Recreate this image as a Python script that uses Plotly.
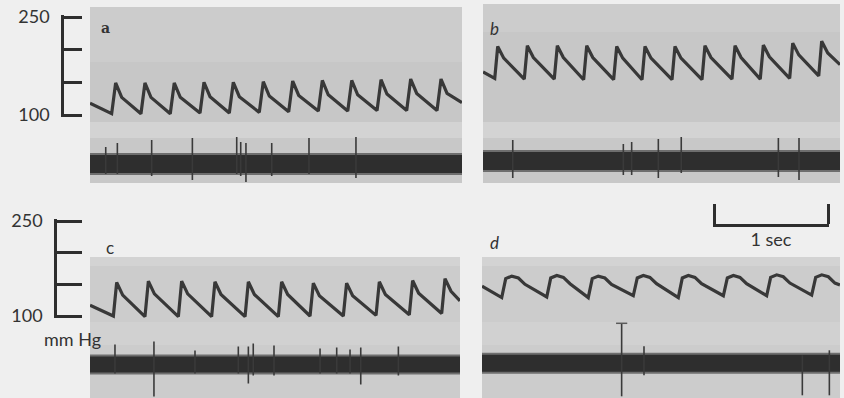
import plotly.graph_objects as go

# ---------------- data (time in s, pressure in mm Hg, nerve in rel. units) ----------------
A_T = [0.000,
       0.190, 0.225, 0.278, 0.447, 0.482, 0.535, 0.704, 0.739, 0.792,
       0.965, 1.000, 1.053, 1.222, 1.257, 1.310, 1.485, 1.520, 1.573,
       1.743, 1.778, 1.831, 2.003, 2.038, 2.090, 2.261, 2.296, 2.348,
       2.518, 2.553, 2.605, 2.778, 2.813, 2.866, 3.044, 3.079, 3.132,
       3.263]
A_P = [118,
       102, 149, 127, 102, 149, 127, 102, 149, 127,
       103, 150, 128, 103, 150, 128, 104, 151, 129,
       105, 152, 130, 106, 153, 131, 106, 153, 131,
       107, 154, 132, 107, 155, 133, 107, 155, 133,
       119]

B_T = [0.000,
       0.103, 0.129, 0.182, 0.362, 0.389, 0.442, 0.625, 0.652, 0.705,
       0.883, 0.910, 0.963, 1.146, 1.173, 1.226, 1.395, 1.421, 1.474,
       1.658, 1.684, 1.737, 1.921, 1.947, 2.000, 2.184, 2.211, 2.264,
       2.432, 2.459, 2.512, 2.690, 2.717, 2.770, 2.945, 2.971, 3.024,
       3.132]
B_P = [166,
       156, 205, 187, 155, 206, 188, 155, 206, 188,
       154, 206, 188, 154, 205, 187, 154, 205, 187,
       154, 205, 187, 154, 206, 188, 155, 206, 188,
       155, 207, 189, 156, 210, 192, 160, 213, 195,
       177]

C_T = [0.000,
       0.205, 0.234, 0.287, 0.482, 0.512, 0.565, 0.775, 0.804, 0.857,
       1.067, 1.096, 1.149, 1.360, 1.389, 1.442, 1.652, 1.681, 1.734,
       1.930, 1.959, 2.012, 2.222, 2.251, 2.304, 2.509, 2.538, 2.591,
       2.801, 2.830, 2.883, 3.085, 3.114, 3.167,
       3.246]
C_P = [117,
       100, 153, 133, 99, 155, 135, 99, 155, 135,
       99, 154, 134, 99, 154, 134, 99, 154, 134,
       100, 152, 132, 100, 152, 132, 101, 154, 134,
       102, 156, 136, 104, 159, 139,
       124]

D_T = [0.000,
       0.173, 0.208, 0.261, 0.319, 0.377,
       0.568, 0.603, 0.656, 0.714, 0.772,
       0.932, 0.967, 1.020, 1.078, 1.136,
       1.327, 1.362, 1.415, 1.473, 1.531,
       1.722, 1.757, 1.810, 1.868, 1.926,
       2.117, 2.152, 2.205, 2.263, 2.321,
       2.497, 2.532, 2.585, 2.643, 2.701,
       2.892, 2.927, 2.980, 3.038, 3.096,
       3.140]
D_P = [147,
       129, 159, 163, 160, 150,
       130, 160, 164, 161, 151,
       129, 159, 163, 160, 150,
       132, 160, 164, 161, 151,
       129, 160, 164, 161, 151,
       132, 160, 164, 161, 151,
       132, 161, 165, 162, 152,
       133, 161, 165, 162, 152,
       149]

# nerve activity: background noise amplitude and single-unit spikes
A_NOISE = 9
B_NOISE = 9
C_NOISE = 8
D_NOISE = 8.5
A_SPK_T = [0.138, 0.240, 0.541, 0.898, 1.287, 1.322, 1.368, 1.594, 1.921, 2.333]
A_SPK_UP = [17, 21, 24, 26, 27, 22, 21, 21, 26, 27]
A_SPK_DN = [10, 10, 12, 16, 10, 12, 18, 12, 10, 14]
B_SPK_T = [0.261, 1.231, 1.304, 1.538, 1.739, 2.591, 2.772]
B_SPK_UP = [21, 17, 19, 22, 24, 23, 23]
B_SPK_DN = [17, 14, 14, 17, 12, 16, 19]
C_SPK_T = [0.219, 0.561, 0.921, 1.301, 1.389, 1.432, 1.614, 2.018, 2.164, 2.281, 2.375, 2.705]
C_SPK_UP = [20, 23, 14, 18, 18, 21, 19, 16, 17, 15, 17, 18]
C_SPK_DN = [9, 32, 9, 9, 19, 11, 11, 9, 9, 9, 20, 11]
D_SPK_T = [1.225, 1.421, 2.810, 3.047]
D_SPK_UP = [40, 17, 8, 13]
D_SPK_DN = [33, 12, 32, 32]
D_SPK_CAPPED = [True, False, False, False]

PANEL_LABELS = ["a", "b", "c", "d"]
PRESSURE_TICKS = [100, 150, 200, 250]
PRESSURE_TICKTEXT = ["100", "", "", "250"]
PRESSURE_UNIT = "mm Hg"
TIME_BAR = [0, 1]
TIME_LABEL = "1 sec"

# ---------------- layout geometry (pixels of the 844x398 page) ----------------
W, H = 844, 398
def fx(p): return p / W
def fy(p): return 1 - p / H

panels = [
    dict(box=(90, 462, 7, 183), T=A_T, P=A_P, p100=115, k=98/150, nc=164,
         noise=A_NOISE, st=A_SPK_T, su=A_SPK_UP, sd=A_SPK_DN, cap=None),
    dict(box=(483, 840, 4, 183), T=B_T, P=B_P, p100=115, k=98/150, nc=161,
         noise=B_NOISE, st=B_SPK_T, su=B_SPK_UP, sd=B_SPK_DN, cap=None),
    dict(box=(90, 460, 257, 398), T=C_T, P=C_P, p100=316, k=95/150, nc=364.5,
         noise=C_NOISE, st=C_SPK_T, su=C_SPK_UP, sd=C_SPK_DN, cap=None),
    dict(box=(482, 840, 257, 398), T=D_T, P=D_P, p100=316, k=95/150, nc=363.3,
         noise=D_NOISE, st=D_SPK_T, su=D_SPK_UP, sd=D_SPK_DN, cap=D_SPK_CAPPED),
]
PX_PER_S = 114

BG = "#efefef"
PANEL_BG = "#cccccc"
INK = "#2e2e2e"
TRACE = "#383838"
FONT = "Lato"

fig = go.Figure()
layout = dict(
    width=W, height=H, margin=dict(l=0, r=0, t=0, b=0, pad=0), autosize=False,
    paper_bgcolor=BG, plot_bgcolor="rgba(0,0,0,0)", showlegend=False,
    shapes=[], annotations=[],
)

for i, pn in enumerate(panels):
    L, R, Tp, Bt = pn["box"]
    n = i + 1
    xa = "x" if n == 1 else f"x{n}"
    ya = "y" if n == 1 else f"y{n}"
    yn = f"y{n+4}"
    dur = (R - L) / PX_PER_S
    p_hi = 100 + (pn["p100"] - Tp) / pn["k"]
    p_lo = 100 - (Bt - pn["p100"]) / pn["k"]
    n_hi = pn["nc"] - Tp
    n_lo = -(Bt - pn["nc"])

    layout[f"xaxis{n}"] = dict(domain=[fx(L), fx(R)], range=[0, dur], visible=False,
                               anchor=ya, fixedrange=True, automargin=False)
    layout[f"yaxis{n}"] = dict(domain=[fy(Bt), fy(Tp)], range=[p_lo, p_hi], visible=False,
                               anchor=xa, fixedrange=True, automargin=False)
    layout[f"yaxis{n+4}"] = dict(overlaying=ya, range=[n_lo, n_hi], visible=False,
                                 anchor=xa, fixedrange=True, automargin=False)

    xd, yd = f"{xa} domain", f"{ya} domain"
    h = Bt - Tp
    layout["shapes"].append(dict(type="rect", xref=xd, yref=yd, x0=0, x1=1, y0=0, y1=1,
                                 fillcolor=PANEL_BG, line=dict(width=0), layer="below"))
    if i < 2:
        strips = [((62 if i == 0 else 32), 122, "#c7c7c7"), (122, 138, "#d3d3d3"),
                  (138, 183, "#c8c8c8")]
    else:
        strips = [(257, 266, "#d3d3d3"), (322, 345, "#d1d1d1")]
    for s0, s1, c in strips:
        layout["shapes"].append(dict(type="rect", xref=xd, yref=yd, x0=0, x1=1,
                                     y0=(Bt - s1) / h, y1=(Bt - s0) / h,
                                     fillcolor=c, line=dict(width=0), layer="below"))

    fig.add_trace(go.Scatter(x=pn["T"], y=pn["P"], xaxis=xa, yaxis=ya, mode="lines",
                             line=dict(color=TRACE, width=3.2, shape="linear"),
                             hoverinfo="skip"))
    nz = pn["noise"]
    for amp, col in ((nz + 2, "#6e6e6e"), (nz, INK)):
        fig.add_trace(go.Scatter(x=[0, dur, dur, 0, 0], y=[amp, amp, -amp, -amp, amp],
                                 xaxis=xa, yaxis=yn, mode="lines", fill="toself",
                                 fillcolor=col, line=dict(width=0), hoverinfo="skip"))
    sx, sy = [], []
    for t, u, d in zip(pn["st"], pn["su"], pn["sd"]):
        sx += [t, t, None]
        sy += [u, -d, None]
    fig.add_trace(go.Scatter(x=sx, y=sy, xaxis=xa, yaxis=yn, mode="lines",
                             line=dict(color="#3a3a3a", width=1.6), hoverinfo="skip"))
    if pn["cap"]:
        cx = [t for t, c in zip(pn["st"], pn["cap"]) if c]
        cy = [u for u, c in zip(pn["su"], pn["cap"]) if c]
        fig.add_trace(go.Scatter(x=cx, y=cy, xaxis=xa, yaxis=yn, mode="markers",
                                 marker=dict(symbol="line-ew", size=8,
                                             line=dict(color="#5a5a5a", width=1.5)),
                                 hoverinfo="skip"))

# pressure calibration bars (range padded slightly so end ticks are drawn)
PAD_PX = 1.6
for n, (top, bot, xpos, tl) in zip((9, 10), ((17, 115, 62, 18), (221, 316, 55, 25))):
    xn = 5 if n == 9 else 6
    k = (bot - top) / (PRESSURE_TICKS[-1] - PRESSURE_TICKS[0])
    pad = PAD_PX / k
    layout[f"xaxis{xn}"] = dict(domain=[0, 0.08], range=[0, 1], visible=False,
                                anchor=f"y{n}", fixedrange=True, automargin=False)
    layout[f"yaxis{n}"] = dict(
        domain=[fy(bot + PAD_PX), fy(top - PAD_PX)],
        range=[PRESSURE_TICKS[0] - pad, PRESSURE_TICKS[-1] + pad],
        anchor="free", position=fx(xpos), side="left", automargin=False,
        showline=True, linecolor=INK, linewidth=2.5,
        ticks="inside", ticklen=tl, tickwidth=2.5, tickcolor=INK,
        tickvals=PRESSURE_TICKS, ticktext=PRESSURE_TICKTEXT,
        tickfont=dict(family=FONT, size=18, color="#333"),
        ticklabelstandoff=8, showgrid=False, zeroline=False, fixedrange=True)
    fig.add_trace(go.Scatter(x=[0.5, 0.5], y=[PRESSURE_TICKS[0], PRESSURE_TICKS[-1]],
                             xaxis=f"x{xn}", yaxis=f"y{n}", mode="none", hoverinfo="skip"))

# time calibration bar
TPAD = 0.01
layout["xaxis7"] = dict(domain=[fx(714 - TPAD * 114), fx(828 + TPAD * 114)],
                        range=[TIME_BAR[0] - TPAD, TIME_BAR[1] + TPAD], anchor="free",
                        position=fy(225), side="bottom", showline=True, linecolor=INK,
                        linewidth=2.5, ticks="inside", ticklen=20, tickwidth=2.5,
                        tickcolor=INK, tickvals=TIME_BAR, ticktext=["", ""],
                        showgrid=False, zeroline=False, fixedrange=True, automargin=False,
                        title=dict(text=TIME_LABEL, standoff=5,
                                   font=dict(family=FONT, size=18, color="#333")))
layout["yaxis11"] = dict(domain=[fy(225), fy(205)], range=[0, 1], visible=False,
                         anchor="x7", fixedrange=True, automargin=False)
fig.add_trace(go.Scatter(x=TIME_BAR, y=[0, 0], xaxis="x7", yaxis="y11", mode="none",
                         hoverinfo="skip"))

layout["annotations"] += [
    dict(text=PRESSURE_UNIT, x=fx(42), y=fy(352), xref="paper", yref="paper",
         showarrow=False, font=dict(family=FONT, size=18, color="#333")),
    dict(text="<b>a</b>", x=fx(99), y=fy(18), xref="paper", yref="paper", showarrow=False,
         font=dict(family="DejaVu Serif", size=14, color="#333")),
    dict(text="<i>b</i>", x=fx(494), y=fy(16), xref="paper", yref="paper", showarrow=False,
         font=dict(family=FONT, size=17, color="#333")),
    dict(text="c", x=fx(104), y=fy(247), xref="paper", yref="paper", showarrow=False,
         font=dict(family=FONT, size=17, color="#333")),
    dict(text="<i>d</i>", x=fx(494), y=fy(242), xref="paper", yref="paper", showarrow=False,
         font=dict(family=FONT, size=17, color="#333")),
]

fig.update_layout(**layout)
fig.write_html("out.html", config={"responsive": False, "displayModeBar": False},
               post_script="document.body.style.margin='0';document.body.style.overflow='hidden';")
